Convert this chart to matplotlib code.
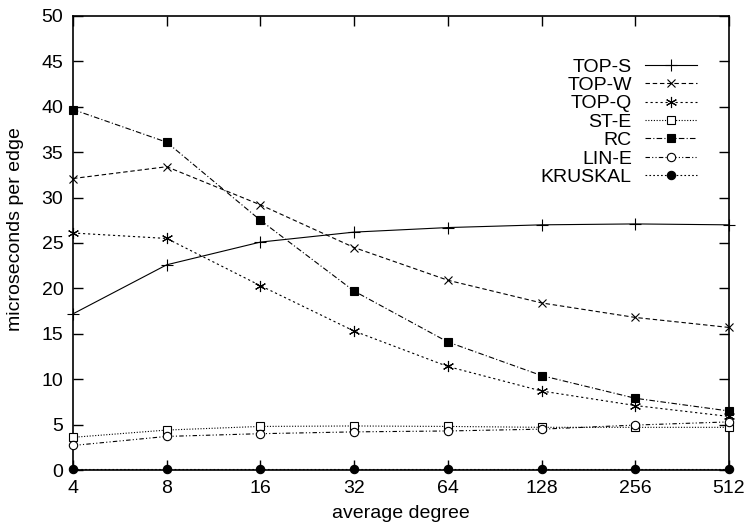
import matplotlib
matplotlib.use("Agg")
import matplotlib.pyplot as plt

plt.rcParams['font.family'] = ['Liberation Sans', 'DejaVu Sans']

degrees = [4, 8, 16, 32, 64, 128, 256, 512]

top_s = [17.2, 22.6, 25.1, 26.2, 26.7, 27.0, 27.1, 27.0]
top_w = [32.1, 33.4, 29.2, 24.5, 20.9, 18.4, 16.8, 15.7]
top_q = [26.1, 25.5, 20.3, 15.3, 11.4, 8.7, 7.1, 5.9]
st_e = [3.6, 4.4, 4.8, 4.85, 4.8, 4.7, 4.7, 4.7]
rc = [39.7, 36.1, 27.5, 19.7, 14.1, 10.4, 7.9, 6.5]
lin_e = [2.7, 3.7, 4.0, 4.2, 4.3, 4.5, 4.95, 5.3]
kruskal = [0.1, 0.1, 0.1, 0.1, 0.1, 0.1, 0.1, 0.1]

series = [
    ("TOP-S", top_s, dict(linestyle='-', marker='+', ms=8)),
    ("TOP-W", top_w, dict(linestyle=(0, (4, 2.5)), marker='x', ms=6)),
    ("TOP-Q", top_q, dict(linestyle=(0, (2, 2.5)), marker=(6, 2, 0), ms=8)),
    ("ST-E", st_e, dict(linestyle=(0, (1, 1.5)), marker='s', mfc='white', ms=6)),
    ("RC", rc, dict(linestyle=(0, (5, 2, 1, 2)), marker='s', mfc='black', ms=6)),
    ("LIN-E", lin_e, dict(linestyle=(0, (4, 2, 1, 2, 1, 2)), marker='o', mfc='white', ms=6)),
    ("KRUSKAL", kruskal, dict(linestyle=(0, (1.5, 2)), marker='o', mfc='black', ms=6)),
]

fig = plt.figure(figsize=(7.45, 5.29), dpi=100)
ax = fig.add_axes([0.098, 0.1115, 0.8805, 0.8583])

for name, vals, style in series:
    ax.plot(degrees, vals, color='black', lw=0.8, mew=0.8, label=name,
            clip_on=False, zorder=3, **style)

ax.set_xscale('log', base=2)
ax.set_xlim(4, 512)
ax.set_ylim(0, 50)
ax.set_xticks(degrees)
ax.set_xticklabels([str(d) for d in degrees])
ax.minorticks_off()
ax.set_yticks(range(0, 51, 5))
ax.tick_params(direction='in', top=True, right=True, length=7, width=1,
               labelsize=14, pad=7)
for s in ax.spines.values():
    s.set_linewidth(1.2)

ax.set_xlabel('average degree', fontsize=14, labelpad=6)
ax.set_ylabel('microseconds per edge', fontsize=14)
ax.yaxis.set_label_coords(-0.075, 0.53)

# gnuplot-style key: labels right-aligned, sample to the right
leg = ax.legend(loc='upper right', bbox_to_anchor=(697 / 745, 1 - 58 / 529),
                bbox_transform=fig.transFigure, frameon=False,
                markerfirst=False, fontsize=14, handlelength=2.68,
                labelspacing=0.04, handletextpad=0.67,
                borderpad=0, borderaxespad=0)
for t in leg.get_texts():
    t.set_horizontalalignment('right')

fig.savefig('out.png', dpi=100)
